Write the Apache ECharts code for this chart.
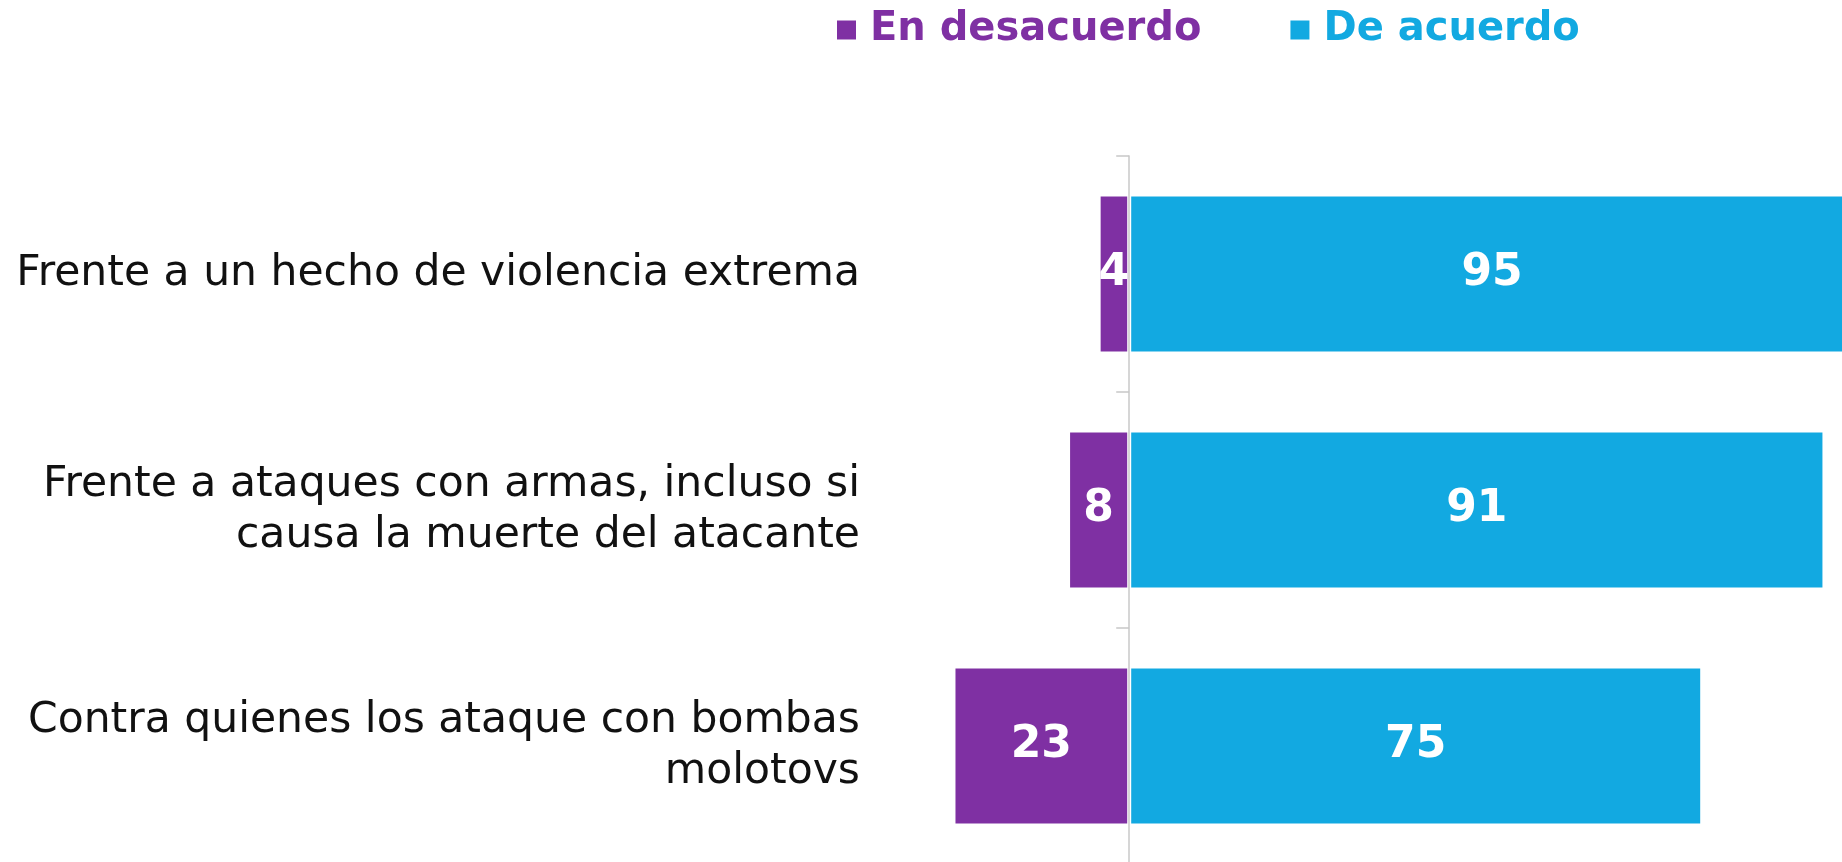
<!DOCTYPE html>
<html>
<head>
<meta charset="utf-8">
<title>Legítima defensa</title>
<script src="https://cdn.jsdelivr.net/npm/echarts@6/dist/echarts.min.js"></script>
<style>
  html, body { margin: 0; padding: 0; background: #fff; }
  #chart { width: 1842px; height: 862px; }
</style>
</head>
<body>
<div id="chart"></div>
<script>
// datos
const categories = [
  'Frente a un hecho de violencia extrema',
  'Frente a ataques con armas, incluso si\ncausa la muerte del atacante',
  'Contra quienes los ataque con bombas\nmolotovs'
]
const enDesacuerdo = [4, 8, 23]
const deAcuerdo = [95, 91, 75]

const PURPLE = '#7f30a3'
const BLUE = '#12a9e1'
const FONT = 'DejaVu Sans'

const chart = echarts.init(document.getElementById('chart'))

const option = {
  animation: false,
  textStyle: { fontFamily: FONT },
  legend: {
    left: 835,
    top: 10,
    padding: 0,
    icon: 'rect',
    itemWidth: 21,
    itemHeight: 21,
    itemGap: 87,
    selectedMode: false,
    textStyle: { fontSize: 40, fontWeight: 'bold', fontFamily: FONT, padding: [0, 0, 0, 8] },
    data: [
      { name: 'En desacuerdo', textStyle: { color: PURPLE } },
      { name: 'De acuerdo', textStyle: { color: BLUE } }
    ]
  },
  grid: {
    left: 900,
    top: 156,
    width: 955,
    height: 708,
    outerBoundsMode: 'none',
    containLabel: false
  },
  xAxis: {
    type: 'value',
    min: -30,
    max: 95,
    show: false
  },
  yAxis: {
    type: 'category',
    inverse: true,
    data: categories,
    z: 5,
    axisLine: { show: true, onZero: true, lineStyle: { color: '#c8c8c8', width: 1.5 } },
    axisTick: { show: true, length: 13, lineStyle: { color: '#c8c8c8', width: 1.5 } },
    axisLabel: {
      margin: 40,
      fontSize: 42.5,
      lineHeight: 51,
      color: '#111',
      fontFamily: FONT
    }
  },
  series: [
    {
      name: 'En desacuerdo',
      type: 'bar',
      stack: 'total',
      barWidth: 159,
      data: enDesacuerdo.map(v => -v),
      itemStyle: { color: PURPLE, borderColor: '#fff', borderWidth: 2 },
      label: {
        show: true,
        position: 'inside',
        color: '#fff',
        fontSize: 44,
        fontWeight: 'bold',
        fontFamily: FONT,
        formatter: p => Math.abs(p.value)
      }
    },
    {
      name: 'De acuerdo',
      type: 'bar',
      stack: 'total',
      barWidth: 159,
      data: deAcuerdo,
      itemStyle: { color: BLUE, borderColor: '#fff', borderWidth: 2 },
      label: {
        show: true,
        position: 'inside',
        color: '#fff',
        fontSize: 44,
        fontWeight: 'bold',
        fontFamily: FONT
      }
    }
  ]
}

chart.setOption(option)
</script>
</body>
</html>
